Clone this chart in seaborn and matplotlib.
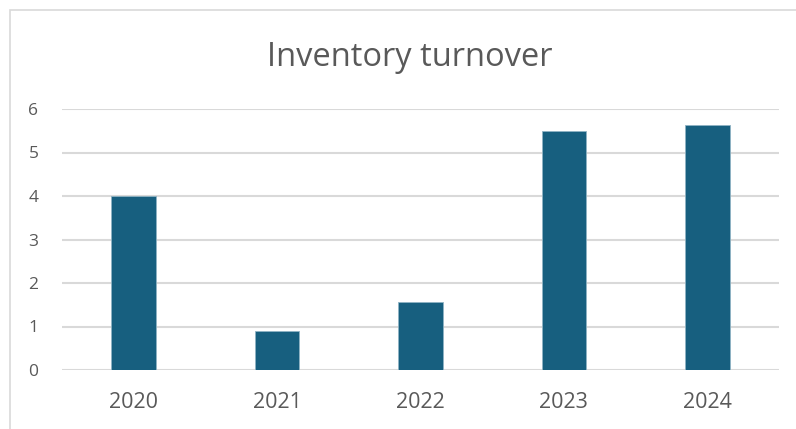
import matplotlib
matplotlib.use("Agg")
import matplotlib.pyplot as plt
import seaborn as sns
import pandas as pd

years = ["2020", "2021", "2022", "2023", "2024"]
turnover = [4.0, 0.89, 1.57, 5.50, 5.63]
y_ticks = [0, 1, 2, 3, 4, 5, 6]
title = "Inventory turnover"

bar_color = "#175F7F"
text_color = "#595959"
grid_color = "#D9D9D9"

sns.set_theme(style="white")
plt.rcParams["font.family"] = ["Open Sans", "DejaVu Sans"]

dpi = 100
fig = plt.figure(figsize=(796 / dpi, 429 / dpi), dpi=dpi)
W, H = 796, 429
ax = fig.add_axes([62 / W, 1 - 370 / H, (779 - 62) / W, (370 - 109) / H])

df = pd.DataFrame({"year": years, "turnover": turnover})
sns.barplot(data=df, x="year", y="turnover", color=bar_color, saturation=1,
            width=0.31, ax=ax, zorder=3, edgecolor="#8FB3C4", linewidth=0.6)

ax.set_xlim(-0.5, len(years) - 0.5)
ax.set_ylim(0, 6)
ax.set_yticks(y_ticks)
ax.set_yticklabels([str(t) for t in y_ticks])
ax.grid(axis="y", color=grid_color, linewidth=1.5, zorder=0)
ax.set_axisbelow(True)
for s in ax.spines.values():
    s.set_visible(False)
ax.set_xlabel("")
ax.set_ylabel("")
ax.tick_params(axis="both", length=0, colors=text_color)
ax.tick_params(axis="y", pad=17, labelsize=12.5)
ax.tick_params(axis="x", pad=15.5, labelsize=15.5)

# chart title, centred over the chart area
fig.text(409.5 / W, 1 - 53 / H, title, ha="center", va="center_baseline",
         fontsize=23.5, color=text_color)

# chart frame
frame = plt.Rectangle((9.5 / W, -0.1), 1.2, 1 - 10 / H + 0.1, transform=fig.transFigure,
                      fill=False, edgecolor="#D9D9D9", linewidth=1.2)
fig.add_artist(frame)

fig.savefig("out.png", dpi=dpi, facecolor="white")
